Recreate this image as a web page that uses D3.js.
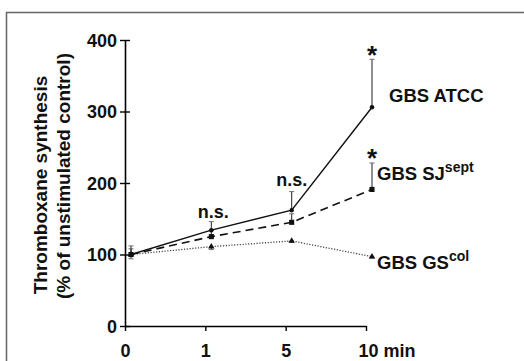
<!DOCTYPE html>
<html>
<head>
<meta charset="utf-8">
<script src="https://cdn.jsdelivr.net/npm/d3@7"></script>
<style>
  body { margin: 0; background: #fff; }
  svg { display: block; font-family: "Liberation Sans", Arial, sans-serif; font-weight: bold; }
</style>
</head>
<body>
<div id="chart"></div>
<script>
// time points (min) and the three strains
var times = ["0", "1", "5", "10"];
var yTicks = [0, 100, 200, 300, 400];

var atcc = [100, 134, 162, 306];
var atccErr = [12, 12, 26, 67];
var sj = [100, 125, 145, 191];
var sjErr = [8, 9, 12, 37];
var gs = [100, 111, 119, 97];
var gsErr = [6, 4, 2, 2];

var width = 524,
  height = 361;

var svg = d3
  .select("#chart")
  .append("svg")
  .attr("width", width)
  .attr("height", height);

// grey frame round the figure
svg
  .append("rect")
  .attr("x", 6.5)
  .attr("y", 12.5)
  .attr("width", 600)
  .attr("height", 400)
  .attr("fill", "none")
  .attr("stroke", "#666")
  .attr("stroke-width", 1.5);

var xscale = d3.scalePoint().domain(times).range([125, 366]);
var yscale = d3.scaleLinear().domain([0, 400]).range([326, 40]);
var px = (i) => xscale(times[i]) + 6;

// y axis
var yAxis = svg
  .append("g")
  .attr("transform", "translate(125,0)")
  .call(d3.axisLeft(yscale).tickValues(yTicks).tickSize(5).tickSizeOuter(0));
yAxis.select(".domain").attr("stroke-width", 1.6);
yAxis.selectAll(".tick line").attr("x2", 5).attr("x1", -5).attr("stroke-width", 1.4);
yAxis
  .selectAll(".tick text")
  .attr("x", -8)
  .attr("dy", "0.36em")
  .style("font-size", "18px")
  .style("font-family", "Liberation Sans, Arial, sans-serif")
  .style("font-weight", "bold")
  .attr("fill", "#111");

// x axis
var xAxis = svg
  .append("g")
  .attr("transform", "translate(0,326)")
  .call(d3.axisBottom(xscale).tickSize(5).tickSizeOuter(0));
xAxis.select(".domain").attr("stroke-width", 1.6);
xAxis.selectAll(".tick line").attr("stroke-width", 1.4);
xAxis
  .selectAll(".tick text")
  .attr("y", 18)
  .attr("dy", "0.71em")
  .style("font-size", "18px")
  .style("font-family", "Liberation Sans, Arial, sans-serif")
  .style("font-weight", "bold")
  .attr("fill", "#111");
xAxis
  .selectAll(".tick text")
  .filter((d) => d == "10")
  .attr("text-anchor", "start")
  .attr("x", -8)
  .text("10 min");

// y axis title
var title = svg.append("g").attr("fill", "#111").style("font-size", "19px");
title
  .append("text")
  .attr("transform", "translate(46.5,185) rotate(-90)")
  .attr("text-anchor", "middle")
  .text("Thromboxane synthesis");
title
  .append("text")
  .attr("transform", "translate(70,176) rotate(-90)")
  .attr("text-anchor", "middle")
  .text("(% of unstimulated control)");

var series = [
  { vals: gs, err: gsErr, dir: 1, dash: "1.2,1.6", width: 1.3, color: "#444", mark: "triangle" },
  { vals: sj, err: sjErr, dir: -1, dash: "8,5", width: 1.6, color: "#111", mark: "square" },
  { vals: atcc, err: atccErr, dir: -1, dash: null, width: 1.4, color: "#111", mark: "circle" },
];

var line = d3
  .line()
  .x((d, i) => px(i))
  .y((d) => yscale(d));

series.forEach((s) => {
  // error bars
  var eb = svg.append("g").attr("stroke", "#333").attr("stroke-width", 1.1);
  s.vals.forEach((v, i) => {
    var yEnd = yscale(v) + s.dir * Math.abs(yscale(v + s.err[i]) - yscale(v));
    eb.append("line")
      .attr("x1", px(i)).attr("x2", px(i))
      .attr("y1", yscale(v)).attr("y2", yEnd);
    eb.append("line")
      .attr("x1", px(i) - 2.5).attr("x2", px(i) + 2.5)
      .attr("y1", yEnd).attr("y2", yEnd)
      .attr("stroke", "#777");
  });

  svg
    .append("path")
    .datum(s.vals)
    .attr("d", line)
    .attr("fill", "none")
    .attr("stroke", s.color)
    .attr("stroke-width", s.width)
    .attr("stroke-dasharray", s.dash);

  var sym =
    s.mark == "circle" ? d3.symbolCircle : s.mark == "square" ? d3.symbolSquare : d3.symbolTriangle;
  var size = s.mark == "circle" ? 16 : s.mark == "square" ? 26 : 18;
  svg
    .append("g")
    .selectAll("path")
    .data(s.vals)
    .enter()
    .append("path")
    .attr("d", d3.symbol().type(sym).size(size))
    .attr("transform", (d, i) => "translate(" + px(i) + "," + yscale(d) + ")")
    .attr("fill", "#111");
});

// significance marks
var notes = svg.append("g").attr("fill", "#111").style("font-size", "18px");
notes.append("text").attr("x", px(1) + 2).attr("y", yscale(146) - 4).attr("text-anchor", "middle").text("n.s.");
notes.append("text").attr("x", px(2)).attr("y", yscale(188) - 6).attr("text-anchor", "middle").text("n.s.");
notes
  .append("text")
  .attr("x", px(3))
  .attr("y", yscale(atcc[3] + atccErr[3]) + 5)
  .attr("text-anchor", "middle")
  .style("font-size", "26px")
  .text("*");
notes
  .append("text")
  .attr("x", px(3))
  .attr("y", yscale(sj[3] + sjErr[3]) + 4)
  .attr("text-anchor", "middle")
  .style("font-size", "26px")
  .text("*");

// strain labels
var labels = svg.append("g").attr("fill", "#111").style("font-size", "18.5px");
labels.append("text").attr("x", 389).attr("y", 101.5).text("GBS ATCC");
var l2 = labels.append("text").attr("x", 377).attr("y", 180);
l2.append("tspan").text("GBS SJ");
l2.append("tspan").attr("dy", -8).style("font-size", "14px").text("sept");
var l3 = labels.append("text").attr("x", 377).attr("y", 269);
l3.append("tspan").text("GBS GS");
l3.append("tspan").attr("dy", -8).style("font-size", "14px").text("col");
</script>
</body>
</html>
